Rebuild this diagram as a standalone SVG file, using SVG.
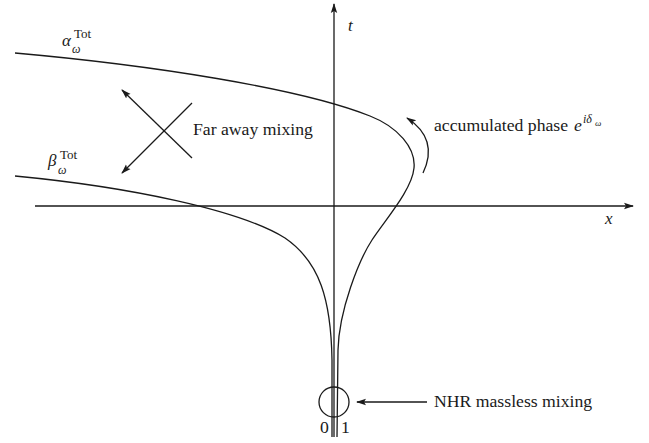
<svg xmlns="http://www.w3.org/2000/svg" width="649" height="443" viewBox="0 0 649 443">
<defs>
<marker id="ah" markerWidth="10" markerHeight="8" refX="9" refY="4" orient="auto" markerUnits="userSpaceOnUse">
<path d="M0,0.8 L10,4 L0,7.2 L2,4 Z" fill="#1a1a1a"/>
</marker>
</defs>
<style>
.ln{fill:none;stroke:#1a1a1a;stroke-width:1.3}
.ar{fill:none;stroke:#1a1a1a;stroke-width:1.3;marker-end:url(#ah)}
.tx{font-size:17.7px;fill:#1a1a1a}
.it{font-style:italic;fill:#1a1a1a}
.sm{font-size:13px;fill:#1a1a1a}
</style>
<rect width="649" height="443" fill="#ffffff"/>
<g id="connectors">
<line class="ar" x1="35" y1="206" x2="633" y2="206"/>
<line class="ar" x1="334" y1="437" x2="334" y2="4"/>
<path id="alpha-curve" class="ln" d="M15,53 C150,65 300,88 370,116 C398,127 416,148 414,168 C412,190 385,220 372,240 C359,260 339,310 338,350 L337,437"/>
<path id="beta-curve" class="ln" d="M15,176 C130,187 240,210 285,238 C320,262 331,300 332,360 L332,437"/>
<line class="ar" x1="192" y1="158" x2="122" y2="90"/>
<line class="ar" x1="192" y1="103" x2="122" y2="173"/>
<path class="ar" d="M423,173 C433,152 430,133 407,118"/>
<line class="ar" x1="427" y1="402" x2="357" y2="402"/>
</g>
<g font-family="Liberation Serif, DejaVu Serif, serif">
<g id="label-alpha">
<text class="it" x="62" y="46" font-size="17">α</text>
<text class="sm" x="74" y="38">Tot</text>
<text class="it" x="72" y="53" font-size="12">ω</text>
</g>
<g id="label-beta">
<text class="it" x="48" y="166" font-size="17">β</text>
<text class="sm" x="60" y="159">Tot</text>
<text class="it" x="58" y="174" font-size="12">ω</text>
</g>
<g id="label-t"><text class="it" x="348" y="31" font-size="17">t</text></g>
<g id="label-x"><text class="it" x="605" y="224" font-size="17">x</text></g>
<g id="label-far"><text class="tx" x="193" y="135">Far away mixing</text></g>
<g id="label-phase">
<text class="tx" x="434" y="131">accumulated phase</text>
<text class="it" x="574" y="131" font-size="17.7">e</text>
<text class="it" x="583" y="123" font-size="12">iδ</text>
<text class="it" x="595" y="126" font-size="9">ω</text>
</g>
<g id="nhr">
<circle class="ln" cx="334" cy="402" r="15"/>
<text class="tx" x="434" y="407">NHR massless mixing</text>
</g>
<g id="label-0"><text class="tx" x="320" y="433">0</text></g>
<g id="label-1"><text class="tx" x="341" y="433">1</text></g>
</g>
</svg>
